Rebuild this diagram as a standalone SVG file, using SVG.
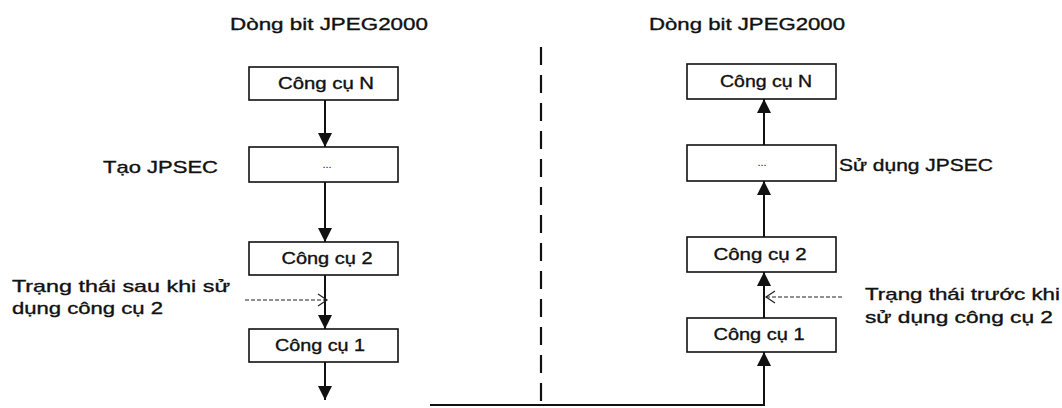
<svg xmlns="http://www.w3.org/2000/svg" width="1062" height="408" viewBox="0 0 1062 408">
<defs>
<style>
.box{fill:#fff;stroke:#111;stroke-width:1.6}
.t{font-family:"Liberation Sans",Arial,sans-serif;font-size:17px;fill:#111;stroke:#111;stroke-width:0.35}
.bt{font-family:"Liberation Sans",Arial,sans-serif;font-size:16px;fill:#111;stroke:#111;stroke-width:0.35;text-anchor:middle}
.dots{font-family:"Liberation Sans",Arial,sans-serif;font-size:11px;fill:#111;text-anchor:middle}
.ln{fill:none;stroke:#111;stroke-width:2}
.dash{fill:none;stroke:#222;stroke-width:1.2;stroke-dasharray:4 2}
.div{fill:none;stroke:#111;stroke-width:2.2;stroke-dasharray:18 10}
</style>
<marker id="ah" markerUnits="userSpaceOnUse" markerWidth="14" markerHeight="14" refX="14" refY="7" orient="auto">
<path d="M0,0 L14,7 L0,14 Z" fill="#111"/>
</marker>
<marker id="oh" markerUnits="userSpaceOnUse" markerWidth="12" markerHeight="14" refX="10" refY="7" orient="auto">
<path d="M1,1 L10,7 L1,13" fill="none" stroke="#222" stroke-width="1.2"/>
</marker>
</defs>
<g id="titles">
<text class="t" x="230" y="30" textLength="198" lengthAdjust="spacingAndGlyphs">Dòng bit JPEG2000</text>
<text class="t" x="649" y="30" textLength="196" lengthAdjust="spacingAndGlyphs">Dòng bit JPEG2000</text>
</g>
<g id="divider">
<line class="div" x1="541" y1="47" x2="541" y2="408"/>
</g>
<g id="L-N">
<rect class="box" x="249" y="67" width="149" height="33"/>
<text class="bt" x="326" y="89" textLength="96" lengthAdjust="spacingAndGlyphs">Công cụ N</text>
</g>
<g id="L-dots">
<rect class="box" x="249" y="147" width="149" height="35"/>
<text class="dots" x="327" y="168">...</text>
</g>
<g id="L-2">
<rect class="box" x="249" y="242" width="149" height="33"/>
<text class="bt" x="327" y="264" textLength="91" lengthAdjust="spacingAndGlyphs">Công cụ 2</text>
</g>
<g id="L-1">
<rect class="box" x="249" y="329" width="149" height="33"/>
<text class="bt" x="320" y="351" textLength="90" lengthAdjust="spacingAndGlyphs">Công cụ 1</text>
</g>
<g id="L-labels">
<text class="t" x="103" y="173" textLength="115" lengthAdjust="spacingAndGlyphs">Tạo JPSEC</text>
<text class="t" x="12" y="292" textLength="218" lengthAdjust="spacingAndGlyphs">Trạng thái sau khi sử</text>
<text class="t" x="12" y="314" textLength="151" lengthAdjust="spacingAndGlyphs">dụng công cụ 2</text>
</g>
<g id="R-N">
<rect class="box" x="687" y="64" width="149" height="35"/>
<text class="bt" x="766" y="87" textLength="92" lengthAdjust="spacingAndGlyphs">Công cụ N</text>
</g>
<g id="R-dots">
<rect class="box" x="687" y="145" width="149" height="36"/>
<text class="dots" x="762" y="166">...</text>
</g>
<g id="R-2">
<rect class="box" x="687" y="237" width="149" height="35"/>
<text class="bt" x="760" y="260" textLength="93" lengthAdjust="spacingAndGlyphs">Công cụ 2</text>
</g>
<g id="R-1">
<rect class="box" x="687" y="318" width="149" height="34"/>
<text class="bt" x="759" y="340" textLength="91" lengthAdjust="spacingAndGlyphs">Công cụ 1</text>
</g>
<g id="R-labels">
<text class="t" x="839" y="171" textLength="154" lengthAdjust="spacingAndGlyphs">Sử dụng JPSEC</text>
<text class="t" x="865" y="300" textLength="195" lengthAdjust="spacingAndGlyphs">Trạng thái trước khi</text>
<text class="t" x="865" y="323" textLength="188" lengthAdjust="spacingAndGlyphs">sử dụng công cụ 2</text>
</g>
<g id="connectors">
<line class="ln" x1="325" y1="100" x2="325" y2="147" marker-end="url(#ah)"/>
<line class="ln" x1="325" y1="182" x2="325" y2="242" marker-end="url(#ah)"/>
<line class="ln" x1="325" y1="275" x2="325" y2="329" marker-end="url(#ah)"/>
<line class="ln" x1="325" y1="362" x2="325" y2="400" marker-end="url(#ah)"/>
<line class="dash" x1="245" y1="300" x2="327" y2="300" marker-end="url(#oh)"/>
<polyline class="ln" points="430,405 764,405 764,352" marker-end="url(#ah)"/>
<line class="ln" x1="764" y1="318" x2="764" y2="272" marker-end="url(#ah)"/>
<line class="ln" x1="764" y1="237" x2="764" y2="181" marker-end="url(#ah)"/>
<line class="ln" x1="764" y1="145" x2="764" y2="99" marker-end="url(#ah)"/>
<line class="dash" x1="842" y1="297" x2="766" y2="297" marker-end="url(#oh)"/>
</g>
</svg>
